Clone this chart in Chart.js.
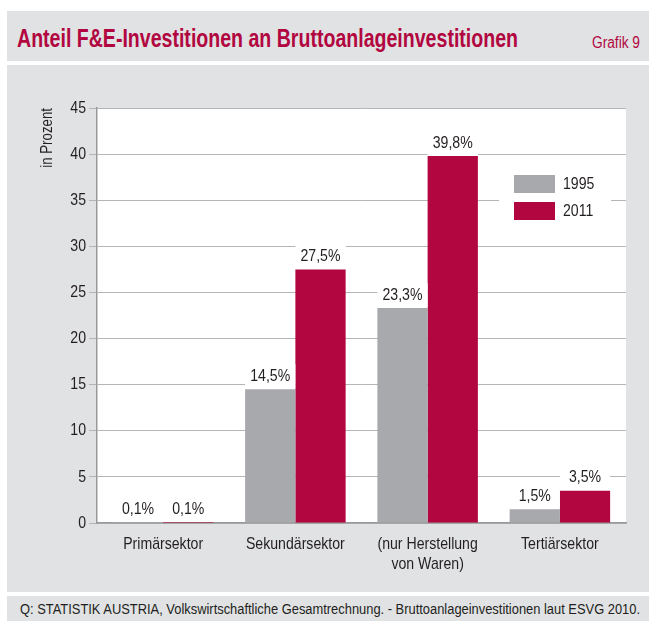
<!DOCTYPE html>
<html>
<head>
<meta charset="utf-8">
<script src="https://cdn.jsdelivr.net/npm/chart.js@4.4.1/dist/chart.umd.min.js"></script>
<style>
  html,body{margin:0;padding:0;background:#fff;}
  body{width:649px;height:621px;position:relative;overflow:hidden;font-family:"Liberation Sans",Arial,sans-serif;}
  .bar{position:absolute;left:7px;width:642px;background:#e1e2e4;}
  #titlebar{top:11px;height:50px;}
  #panel{top:65px;height:527px;}
  #footer{top:596px;height:25px;}
  .fit{position:absolute;white-space:nowrap;transform-origin:0 0;line-height:1;}
  #title{left:10px;top:14px;margin:0;font-weight:bold;font-size:26px;color:#b1063f;}
  #grafik{left:585px;top:23.5px;font-size:16px;color:#b1063f;}
  #source{left:13px;top:6px;font-size:14px;color:#231f20;}
  #chartBox{position:absolute;left:0;top:0;width:642px;height:527px;}
</style>
</head>
<body>
<div id="titlebar" class="bar">
  <h1 id="title" class="fit" data-w="501">Anteil F&amp;E-Investitionen an Bruttoanlageinvestitionen</h1>
  <div id="grafik" class="fit" data-w="48">Grafik 9</div>
</div>
<div id="panel" class="bar">
  <div id="chartBox"><canvas id="chart" width="642" height="527"></canvas></div>
</div>
<div id="footer" class="bar">
  <div id="source" class="fit" data-w="620">Q: STATISTIK AUSTRIA, Volkswirtschaftliche Gesamtrechnung. - Bruttoanlageinvestitionen laut ESVG 2010.</div>
</div>
<script>
const categories = [['Primärsektor'], ['Sekundärsektor'], ['(nur Herstellung', 'von Waren)'], ['Tertiärsektor']];
const seriesNames = ['1995', '2011'];
const values1995 = [0.1, 14.5, 23.3, 1.5];
const values2011 = [0.1, 27.5, 39.8, 3.5];
const seriesColors = ['#a7a9ac', '#b1063f'];
const yMax = 45;
const yStep = 5;

// squeeze the html texts to the widths of the condensed original
document.querySelectorAll('.fit').forEach(el=>{
  const w = el.getBoundingClientRect().width;
  el.style.transform = 'scaleX(' + (parseFloat(el.dataset.w)/w) + ')';
});

const FONT = '"Liberation Sans",Arial,sans-serif';
const FS = 17;
const SQUEEZE = 0.83;
const fmt = v => v.toFixed(1).replace('.', ',') + '%';

// condensed look for canvas text: fillText with a maxWidth narrows the glyphs
const canvas = document.getElementById('chart');
const c2d = canvas.getContext('2d');
const origFill = c2d.fillText.bind(c2d);
c2d.fillText = function(t, x, y, mw){
  const w = this.measureText(t).width * SQUEEZE;
  return origFill(t, x, y, mw ? Math.min(mw, w) : w);
};

// white plot area
const plotBg = {
  id:'plotBg',
  beforeDraw(chart){
    const a=chart.chartArea, ctx=chart.ctx;
    ctx.save(); ctx.fillStyle='#fff'; ctx.fillRect(a.left,a.top,a.right-a.left,a.bottom-a.top); ctx.restore();
  }
};

// value labels above bars, on white boxes
const valueLabels = {
  id:'valueLabels',
  afterDatasetsDraw(chart){
    const ctx=chart.ctx;
    ctx.save();
    chart.data.datasets.forEach((ds,di)=>{
      chart.getDatasetMeta(di).data.forEach((el,i)=>{
        const w=el.width;
        ctx.fillStyle='#fff';
        ctx.fillRect(el.x-w/2, el.y-25, w, 24);
        ctx.fillStyle='#231f20';
        ctx.font=FS+'px '+FONT;
        ctx.textAlign='center'; ctx.textBaseline='middle';
        ctx.fillText(fmt(ds.data[i]), el.x, el.y-13);
      });
    });
    ctx.restore();
  }
};

// legend box inside the plot
const boxLegend = {
  id:'boxLegend',
  afterDatasetsDraw(chart){
    const ctx=chart.ctx;
    const x0=492, y0=98;
    ctx.save();
    ctx.fillStyle='#fff';
    ctx.fillRect(x0,y0,112,67);
    chart.data.datasets.forEach((ds,i)=>{
      const y=y0+12+i*27;
      ctx.fillStyle=ds.backgroundColor;
      ctx.fillRect(x0+15,y,41,18);
      ctx.fillStyle='#231f20';
      ctx.font=FS+'px '+FONT;
      ctx.textAlign='left'; ctx.textBaseline='middle';
      ctx.fillText(ds.label, x0+64, y+9.5);
    });
    ctx.restore();
  }
};

new Chart(canvas, {
  type:'bar',
  data:{
    labels:categories,
    datasets:[
      {label:seriesNames[0], data:values1995, backgroundColor:seriesColors[0]},
      {label:seriesNames[1], data:values2011, backgroundColor:seriesColors[1]}
    ]
  },
  options:{
    responsive:false, animation:false,
    layout:{padding:{top:43,right:23,left:0,bottom:0}},
    categoryPercentage:0.76, barPercentage:1.0,
    plugins:{legend:{display:false}, tooltip:{enabled:false}, title:{display:false}},
    scales:{
      x:{
        grid:{display:false},
        border:{display:true,color:'#999',width:1.5},
        ticks:{color:'#231f20',font:{family:FONT,size:FS,lineHeight:1.18},padding:3,maxRotation:0,autoSkip:false},
        afterFit(s){ s.height=69; }
      },
      y:{
        min:0, max:yMax,
        grid:{color:'#b5b5b5',tickLength:8,lineWidth:1},
        border:{display:true,color:'#999',width:1.5},
        ticks:{stepSize:yStep,color:'#231f20',font:{family:FONT,size:FS},padding:3},
        title:{display:true,text:'in Prozent',align:'end',color:'#231f20',font:{family:FONT,size:16},padding:{top:31,bottom:0}},
        afterFit(s){ s.width=90; }
      }
    }
  },
  plugins:[plotBg, valueLabels, boxLegend]
});
</script>
</body>
</html>
